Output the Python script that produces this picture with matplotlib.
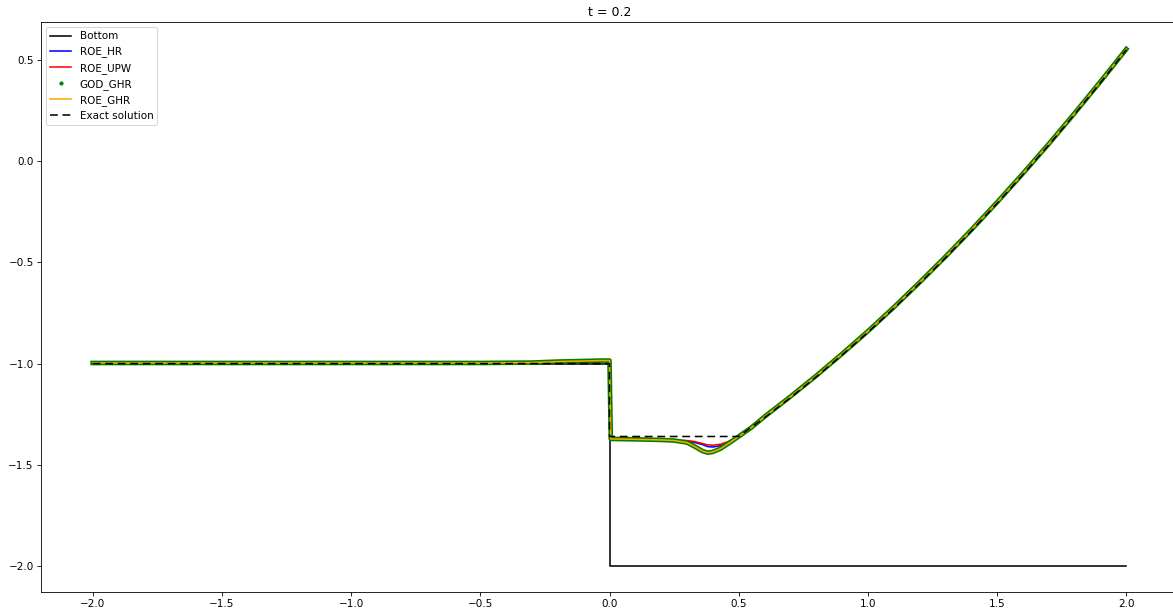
"""Free surface at t = 0.2: numerical schemes vs exact solution."""

import matplotlib
matplotlib.use('Agg')
import matplotlib.pyplot as plt
from matplotlib.lines import Line2D

# bottom topography
x_bottom = [-2.0, 0.0, 0.0, 2.0]
z_bottom = [-1.0, -1.0, -2.0, -2.0]

# exact free surface
x_exact = [-2.0, 0.0, 0.0, 0.5, 0.6, 0.7, 0.8, 0.9, 1.0, 1.1, 1.2, 1.3,
           1.4, 1.5, 1.6, 1.7, 1.8, 1.9, 2.0]
h_exact = [-1.0, -1.0, -1.36, -1.36, -1.267, -1.168, -1.065, -0.957, -0.845,
           -0.727, -0.604, -0.477, -0.345, -0.208, -0.066, 0.080, 0.232,
           0.388, 0.550]

# numerical solutions (shared grid)
x_num = [-2.0, -1.0, -0.5, -0.3, -0.2, -0.1, -0.03, 0.0, 0.005, 0.1, 0.2,
         0.25, 0.3, 0.33, 0.36, 0.38, 0.4, 0.43, 0.46, 0.5, 0.55, 0.6, 0.7,
         0.8, 0.9, 1.0, 1.1, 1.2, 1.3, 1.4, 1.5, 1.6, 1.7, 1.8, 1.9, 2.0]
roe_hr = [-0.997, -0.997, -0.997, -0.995, -0.99, -0.987, -0.985, -0.985,
          -1.372, -1.374, -1.377, -1.379, -1.383, -1.39, -1.40, -1.41, -1.412,
          -1.405, -1.39, -1.36, -1.315, -1.262, -1.163, -1.06, -0.952, -0.84,
          -0.722, -0.599, -0.472, -0.34, -0.203, -0.061, 0.085, 0.237, 0.393,
          0.556]
roe_upw = [-0.997, -0.997, -0.997, -0.995, -0.99, -0.987, -0.985, -0.985,
           -1.372, -1.374, -1.377, -1.378, -1.38, -1.385, -1.395, -1.401,
           -1.403, -1.398, -1.385, -1.36, -1.315, -1.262, -1.163, -1.06,
           -0.952, -0.84, -0.722, -0.599, -0.472, -0.34, -0.203, -0.061,
           0.085, 0.237, 0.393, 0.562]
god_ghr = [-0.997, -0.997, -0.997, -0.995, -0.99, -0.987, -0.985, -0.985,
           -1.372, -1.374, -1.377, -1.38, -1.39, -1.41, -1.432, -1.44, -1.436,
           -1.42, -1.395, -1.36, -1.315, -1.262, -1.163, -1.06, -0.952, -0.84,
           -0.722, -0.599, -0.472, -0.34, -0.203, -0.061, 0.085, 0.237, 0.393,
           0.553]
roe_ghr = [-0.997, -0.997, -0.997, -0.995, -0.99, -0.987, -0.985, -0.985,
           -1.372, -1.374, -1.377, -1.38, -1.39, -1.41, -1.432, -1.44, -1.436,
           -1.42, -1.395, -1.36, -1.315, -1.262, -1.163, -1.06, -0.952, -0.84,
           -0.722, -0.599, -0.472, -0.34, -0.203, -0.061, 0.085, 0.237, 0.393,
           0.553]


def main():
    dpi = 75
    fig = plt.figure(figsize=(1173 / dpi, 614 / dpi), dpi=dpi)
    ax = fig.add_axes([41 / 1173, 22 / 614, 1137 / 1173, 570 / 614])

    h_bot, = ax.plot(x_bottom, z_bottom, color='black', label='Bottom')
    h_hr, = ax.plot(x_num, roe_hr, color='blue', label='ROE_HR')
    h_upw, = ax.plot(x_num, roe_upw, color='red', label='ROE_UPW')
    ax.plot(x_num, god_ghr, color='green', lw=4.5)
    h_ghr, = ax.plot(x_num, roe_ghr, color='orange', label='ROE_GHR')
    h_ex, = ax.plot(x_exact, h_exact, color='black', ls=(0, (5, 3)),
                    label='Exact solution')
    h_god = Line2D([], [], color='green', marker='.', ls='none',
                   label='GOD_GHR')

    ax.set_xlim(-2.2, 2.2)
    ax.set_ylim(-2.128, 0.687)
    ax.set_title('t = 0.2')
    ax.legend(handles=[h_bot, h_hr, h_upw, h_god, h_ghr, h_ex],
              loc='upper left')

    fig.savefig('out.png', dpi=dpi)


if __name__ == '__main__':
    main()
